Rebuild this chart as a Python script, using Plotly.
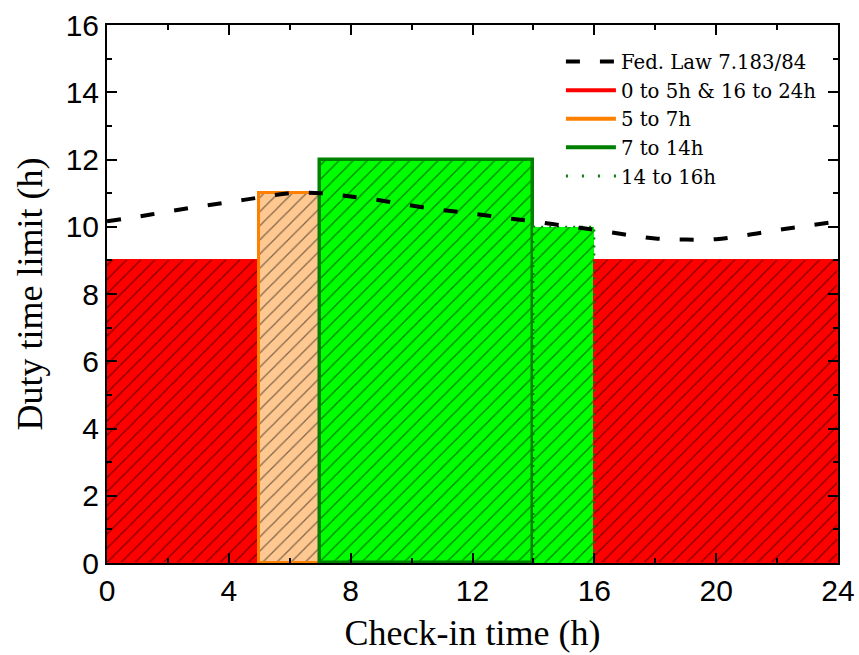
import plotly.graph_objects as go

# ---- data ----
hours = list(range(25))
fed_law = [10.16, 10.30, 10.45, 10.60, 10.73, 10.87, 11.00, 11.00, 10.90, 10.78,
           10.63, 10.50, 10.39, 10.27, 10.16, 10.03, 9.91, 9.77, 9.65, 9.62,
           9.63, 9.75, 9.90, 10.03, 10.16]

band_start = [0, 5, 7, 14, 16]
band_end = [5, 7, 14, 16, 24]
band_limit = [9, 11, 12, 10, 9]
band_fill = ["#FF0000", "#FFC891", "#00FF00", "#00FF00", "#FF0000"]
band_edge = ["#FF0000", "#FF8000", "#008000", "rgba(0,0,0,0)", "#FF0000"]
band_edge_w = [1, 3, 3.5, 0, 1]

legend_labels = ["Fed. Law 7.183/84", "0 to 5h & 16 to 24h", "5 to 7h", "7 to 14h", "14 to 16h"]
legend_colors = ["black", "#FF0000", "#FF8000", "#008000", "#008000"]
legend_dash = ["dash", "solid", "solid", "solid", "dot"]

fig = go.Figure()

for s, e, h, fc, ec, ew in zip(band_start, band_end, band_limit, band_fill, band_edge, band_edge_w):
    fig.add_trace(go.Bar(
        x=[(s + e) / 2], y=[h], width=[e - s],
        marker=dict(color=fc,
                    line=dict(color=ec, width=ew),
                    pattern=dict(shape="/", fillmode="overlay", fgcolor="#000000",
                                 size=10, solidity=0.12)),
        showlegend=False, hoverinfo="skip"))

# dotted outline of the 14-16h band
fig.add_trace(go.Scatter(
    x=[band_start[3], band_start[3], band_end[3], band_end[3]],
    y=[0, band_limit[3], band_limit[3], 0],
    mode="lines", line=dict(color="#008000", width=2, dash="2px,6px"),
    showlegend=False, hoverinfo="skip"))

fig.add_trace(go.Scatter(
    x=hours, y=fed_law, mode="lines",
    line=dict(color="black", width=4, dash="14px,20px", shape="spline"),
    showlegend=False))

for i, (lab, col, d) in enumerate(zip(legend_labels, legend_colors, legend_dash)):
    fig.add_trace(go.Scatter(x=[None], y=[None], mode="lines", name=lab,
                             legendgroup=f"g{i}",
                             line=dict(color=col, width=4 if d != "dot" else 3,
                                       dash="14px,20px" if d == "dash" else ("2px,14px" if d == "dot" else d))))

axis_common = dict(
    showline=True, linecolor="black", linewidth=2, mirror="ticks",
    ticks="inside", ticklen=10, tickwidth=2, tickcolor="black",
    showgrid=False, zeroline=False, automargin=False,
    tickfont=dict(family="Liberation Sans, Arial", size=30, color="black"),
)

fig.update_xaxes(range=[0, 24], dtick=4, tick0=0,
                 minor=dict(ticks="inside", ticklen=5, tickwidth=1.5, dtick=2, tickcolor="black"),
                 title=dict(text="Check-in time (h)", standoff=14,
                            font=dict(family="Liberation Serif, Times New Roman", size=36, color="black")),
                 **axis_common)
fig.update_yaxes(range=[0, 16], dtick=2, tick0=0,
                 minor=dict(ticks="inside", ticklen=5, tickwidth=1.5, dtick=1, tickcolor="black"),
                 title=dict(text="Duty time limit (h)", standoff=12,
                            font=dict(family="Liberation Serif, Times New Roman", size=36, color="black")),
                 **axis_common)

fig.update_layout(
    width=859, height=655,
    margin=dict(l=107, r=21, t=25, b=92),
    plot_bgcolor="white", paper_bgcolor="white",
    bargap=0, barmode="overlay",
    legend=dict(x=0.978, y=0.968, xanchor="right", yanchor="top",
                bgcolor="rgba(0,0,0,0)", tracegroupgap=0, itemwidth=50,
                font=dict(family="DejaVu Serif, Georgia", size=19.7, color="black")),
)

fig.write_html("out.html")
